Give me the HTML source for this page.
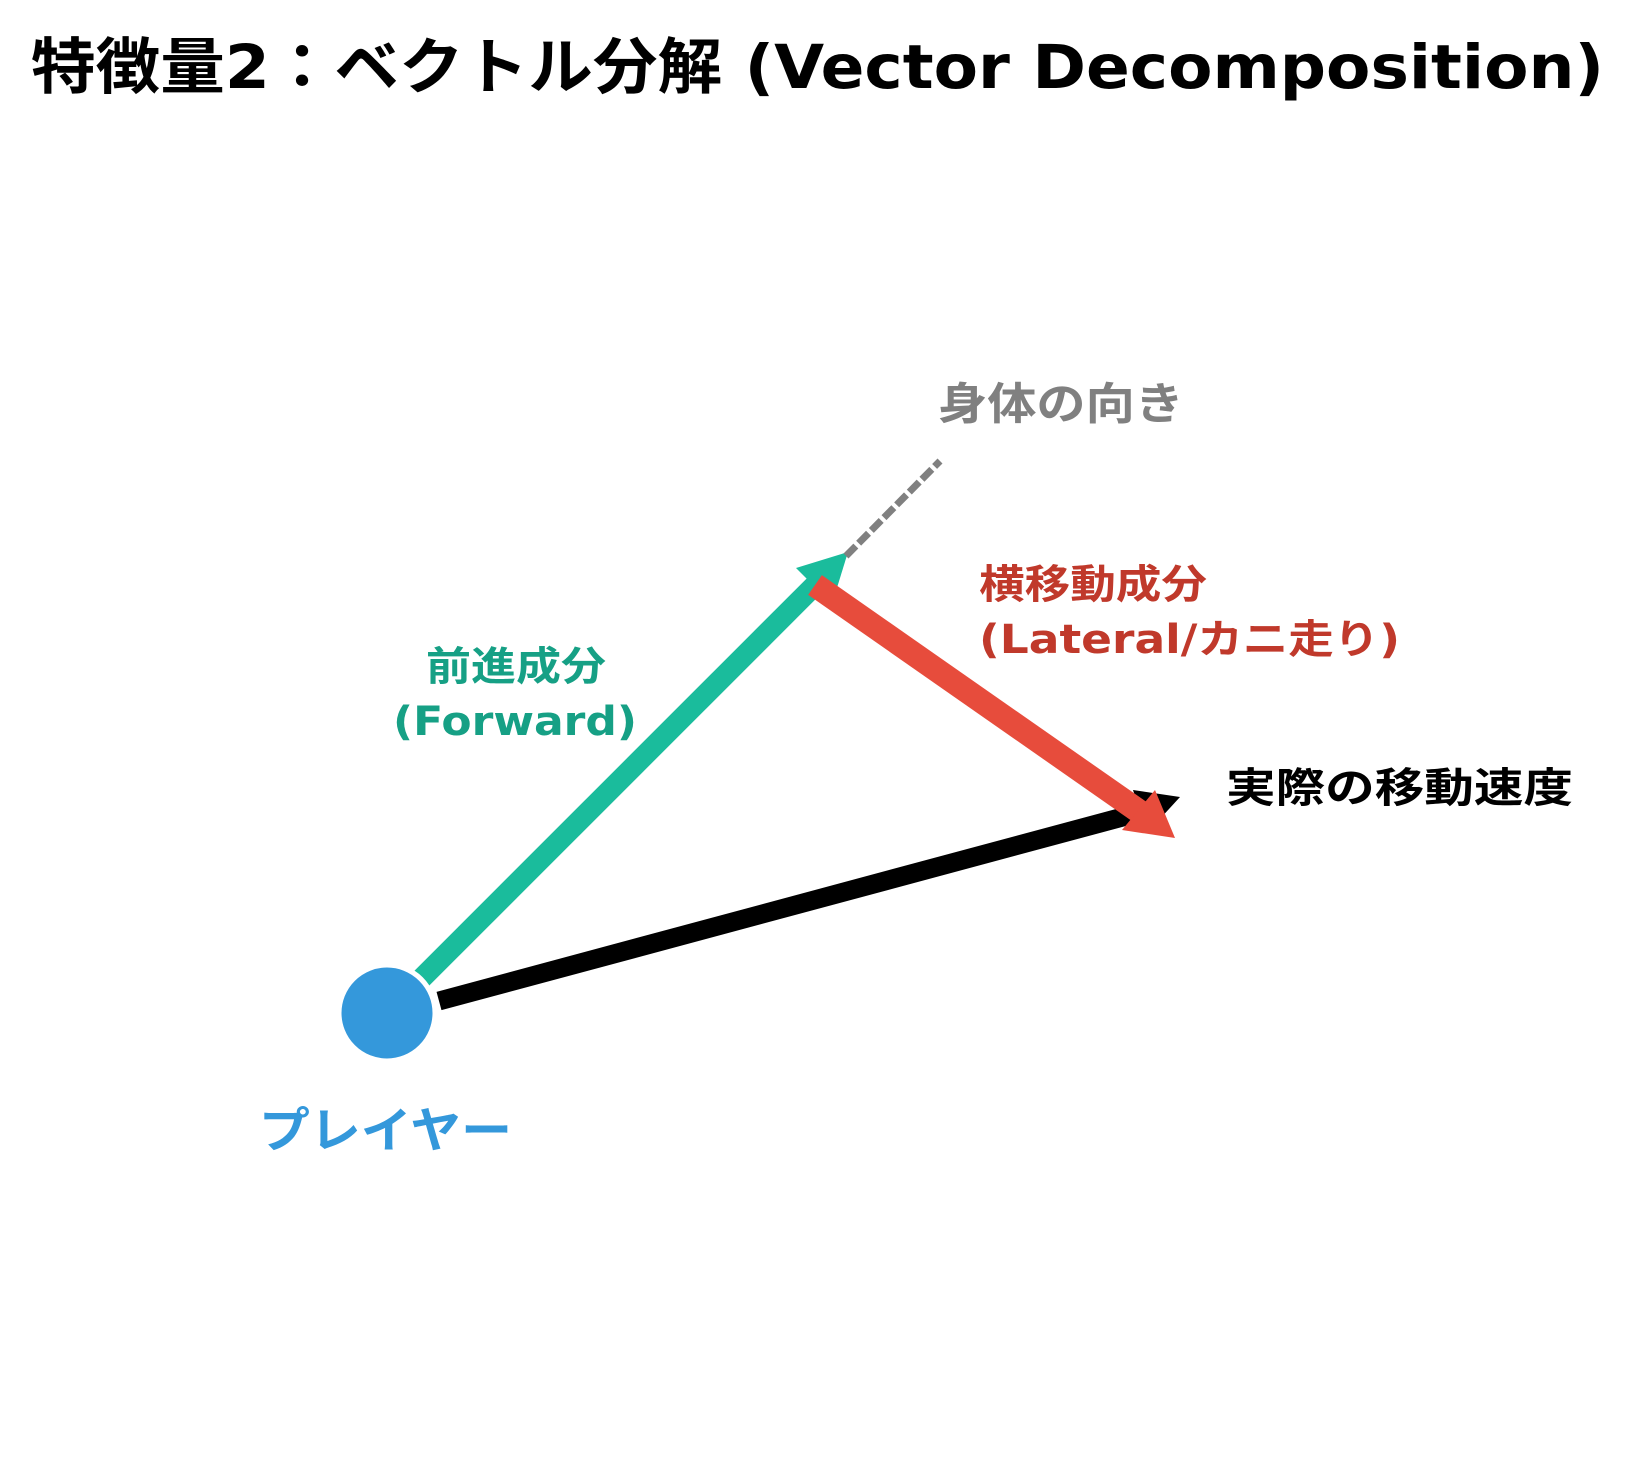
<!DOCTYPE html>
<html><head><meta charset="utf-8">
<style>
html,body{margin:0;padding:0;background:#fff;}
svg{display:block;}
text{font-family:"DejaVu Sans","Noto Sans CJK JP",sans-serif;font-weight:bold;}
</style></head>
<body>
<svg width="1630" height="1470" viewBox="0 0 1630 1470" xmlns="http://www.w3.org/2000/svg">
<rect width="1630" height="1470" fill="#fff"/>
<text x="31" y="88" font-size="61" textLength="1573" lengthAdjust="spacingAndGlyphs" fill="#000">特徴量2：ベクトル分解 (Vector Decomposition)</text>

<line x1="439" y1="1001" x2="1145" y2="811" stroke="#000" stroke-width="19"/>
<polygon points="1180,797 1147,833 1133,790" fill="#000"/>

<line x1="420" y1="980" x2="818" y2="582" stroke="#1abc9c" stroke-width="21"/>
<polygon points="848,552 832,604 796,568" fill="#1abc9c"/>

<line x1="846" y1="556" x2="940" y2="461" stroke="#808080" stroke-width="7" stroke-dasharray="14,4"/>

<line x1="815" y1="585" x2="1140" y2="812" stroke="#e74c3c" stroke-width="24"/>
<polygon points="1175,838 1122,830 1155,790" fill="#e74c3c"/>

<circle cx="387" cy="1013" r="48" fill="#3498db" stroke="#fff" stroke-width="5"/>

<text x="938" y="419" font-size="44" textLength="246" lengthAdjust="spacingAndGlyphs" fill="#808080">身体の向き</text>
<text x="979" y="598" font-size="40" textLength="228" lengthAdjust="spacingAndGlyphs" fill="#c0392b">横移動成分</text>
<text x="979" y="653" font-size="40" textLength="421" lengthAdjust="spacingAndGlyphs" fill="#c0392b">(Lateral/カニ走り)</text>
<text x="426" y="680" font-size="40" textLength="180" lengthAdjust="spacingAndGlyphs" fill="#16a085">前進成分</text>
<text x="393" y="735" font-size="40" textLength="244" lengthAdjust="spacingAndGlyphs" fill="#16a085">(Forward)</text>
<text x="1226" y="802" font-size="41" textLength="347" lengthAdjust="spacingAndGlyphs" fill="#000">実際の移動速度</text>
<text x="259" y="1147" font-size="48" textLength="253" lengthAdjust="spacingAndGlyphs" fill="#3498db">プレイヤー</text>
</svg>
</body></html>
